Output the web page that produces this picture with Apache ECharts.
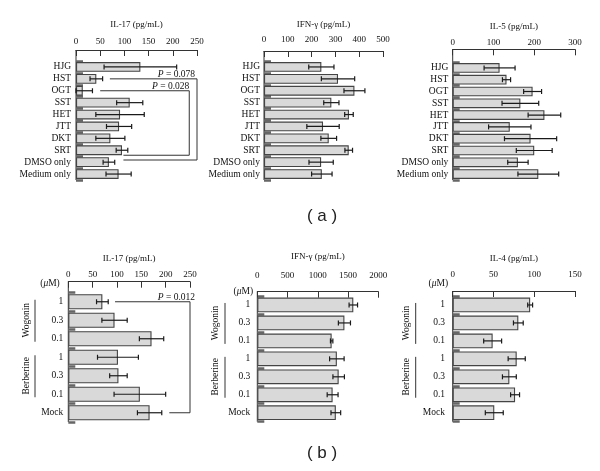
<!DOCTYPE html>
<html><head><meta charset="utf-8">
<script src="https://cdn.jsdelivr.net/npm/echarts@6/dist/echarts.min.js"></script>
<style>html,body{margin:0;padding:0;background:#fff}#c{width:600px;height:471px}</style>
</head><body><div id="c"></div>
<script>
// ---- data ----
const catsA = ['HJG','HST','OGT','SST','HET','JTT','DKT','SRT','DMSO only','Medium only'];
const il17A    = [133, 42, 14, 111, 91, 89, 71, 95, 68, 88];
const il17AErr = [75, 13, 20, 27, 50, 26, 30, 12, 12, 26];
const ifngA    = [241, 311, 380, 283, 357, 248, 272, 356, 240, 243];
const ifngAErr = [53, 70, 44, 32, 18, 68, 33, 16, 51, 43];
const il5A     = [115, 132, 196, 166, 225, 140, 191, 200, 160, 210];
const il5AErr  = [38, 10, 22, 45, 40, 52, 64, 44, 25, 50];

const catsB = ['1','0.3','0.1','1','0.3','0.1','Mock'];
const il17B    = [70, 95, 171, 102, 103, 147, 167];
const il17BErr = [12, 26, 25, 42, 18, 53, 25];
const ifngB    = [1587, 1440, 1229, 1315, 1345, 1245, 1298];
const ifngBErr = [70, 100, 20, 120, 95, 90, 80];
const il4B     = [95, 80.5, 49, 78.5, 69.5, 76.5, 51];
const il4BErr  = [3, 6, 11, 10.5, 8.5, 5.5, 11];

const groupsB = [{name:'Wogonin', from:0, to:2}, {name:'Berberine', from:3, to:5}];
const pValuesA1 = ['0.078', '0.028'];
const pValuesB1 = ['0.012'];

// ---- layout ----
const SERIF = 'Liberation Serif';
const INK = '#111';
const panels = [
 {cats:catsA, vals:il17A, errs:il17AErr, name:'IL-17 (pg/mL)', max:250, step:50, left:76, width:121, top:61, height:119, offset:11, lm:3.8, ng:20.5, cm:5,
  brackets:[{from:1,to:8,start:70,right:250,end:98,shift:-0.18,dx:-2},{from:2,to:8,start:50,right:234,end:98,shift:-0.58,dx:0}], pv:pValuesA1},
 {cats:catsA, vals:ifngA, errs:ifngAErr, name:'IFN-γ (pg/mL)', max:500, step:100, left:264, width:119, top:61, height:119, offset:10, lm:6.5, ng:21.5, cm:4},
 {cats:catsA, vals:il5A, errs:il5AErr, name:'IL-5 (pg/mL)', max:300, step:100, left:452.7, width:122.3, top:62, height:118, offset:12.7, lm:2, ng:18, cm:4.4},
 {cats:catsB, vals:il17B, errs:il17BErr, name:'IL-17 (pg/mL)', max:250, step:50, left:68.3, width:121.7, top:292.5, height:129.5, offset:10.8, lm:3, ng:19, cm:5,
  muX:50, muY:283.3, gTextX:26.7, gLineX:35,
  brackets:[{from:0,to:6,start:96,right:250,end:207.5,shift:0,dx:5}], pv:pValuesB1},
 {cats:catsB, vals:ifngB, errs:ifngBErr, name:'IFN-γ (pg/mL)', max:2000, step:500, left:257.3, width:121, top:296, height:125.7, offset:4.3, lm:12, ng:30.5, cm:7,
  muX:243.3, muY:291.7, gTextX:215, gLineX:225},
 {cats:catsB, vals:il4B, errs:il4BErr, name:'IL-4 (pg/mL)', max:150, step:50, left:452.7, width:122.3, top:296, height:125.7, offset:5, lm:12, ng:28, cm:7.7,
  muX:438.3, muY:283.3, gTextX:406.7, gLineX:415.7}
];

const chart = echarts.init(document.getElementById('c'), null, {renderer:'canvas'});

function errRender(params, api){
  const lo = api.coord([api.value(0), api.value(2)]);
  const hi = api.coord([api.value(1), api.value(2)]);
  const h = 2.5, st = {stroke:'#1a1a1a', lineWidth:1.2};
  return {type:'group', children:[
    {type:'line', shape:{x1:lo[0],y1:lo[1],x2:hi[0],y2:hi[1]}, style:st},
    {type:'line', shape:{x1:lo[0],y1:lo[1]-h,x2:lo[0],y2:lo[1]+h}, style:st},
    {type:'line', shape:{x1:hi[0],y1:hi[1]-h,x2:hi[0],y2:hi[1]+h}, style:st}
  ]};
}
function makeBracketRender(p){
  return function(params, api){
    const b = p.brackets[params.dataIndex];
    const band = api.size([0,1])[1];
    const y0 = api.coord([0, b.from])[1];
    const y1 = api.coord([0, b.to])[1] + b.shift*band;
    const xs = api.coord([b.start, 0])[0];
    const xr = api.coord([b.right, 0])[0];
    const xe = api.coord([b.end, 0])[0];
    return {type:'group', children:[
      {type:'polyline', shape:{points:[[xs,y0],[xr,y0],[xr,y1],[xe,y1]]}, style:{stroke:'#333', fill:null, lineWidth:1}},
      {type:'text', x:xr+b.dx, y:y0+0.5, style:{text:'{i|P} = '+p.pv[params.dataIndex], align:'right', verticalAlign:'bottom',
        fontFamily:SERIF, fontSize:9.5, fill:INK, rich:{i:{fontStyle:'italic', fontFamily:SERIF, fontSize:9.5, fill:INK}}}}
    ]};
  };
}

const grid=[], xAxis=[], yAxis=[], series=[];
panels.forEach((p,k)=>{
  grid.push({left:p.left, top:p.top, width:p.width, height:p.height, containLabel:false});
  xAxis.push({type:'value', gridIndex:k, position:'top', offset:p.offset, min:0, max:p.max, interval:p.step,
    name:p.name, nameLocation:'middle', nameGap:p.ng, nameTextStyle:{fontFamily:SERIF, fontSize:9, color:INK},
    axisLine:{show:true, lineStyle:{color:'#333', width:1}},
    axisTick:{show:true, inside:true, length:6, lineStyle:{color:'#333', width:1}},
    axisLabel:{margin:p.lm, fontFamily:SERIF, fontSize:9, color:INK, showMinLabel:true, showMaxLabel:true, formatter:v=>String(v)},
    splitLine:{show:false}});
  yAxis.push({type:'category', gridIndex:k, data:p.cats, inverse:true,
    axisLine:{show:false},
    axisTick:{show:true, inside:true, length:7, interval:0, lineStyle:{color:'#666', width:2.5}},
    axisLabel:{margin:p.cm, fontFamily:SERIF, fontSize:9.5, color:INK, interval:0}});
  series.push({type:'bar', xAxisIndex:k, yAxisIndex:k, data:p.vals, barCategoryGap:'18%',
    itemStyle:{color:'#d9d9d9', borderColor:'#444', borderWidth:1.1}, silent:true, animation:false});
  series.push({type:'custom', xAxisIndex:k, yAxisIndex:k, renderItem:errRender, encode:{x:[0,1], y:2},
    data:p.vals.map((v,i)=>[Math.max(0, v-p.errs[i]), v+p.errs[i], i]), silent:true, animation:false, z:5});
  if (p.brackets){
    series.push({type:'custom', xAxisIndex:k, yAxisIndex:k, renderItem:makeBracketRender(p), encode:{x:0, y:1},
      data:p.brackets.map(b=>[b.right, b.from]), silent:true, animation:false, z:6});
  }
});

chart.setOption({animation:false, grid, xAxis, yAxis, series});

// decorations computed from the layout
const graphic = [];
panels.forEach((p,k)=>{
  graphic.push({type:'line', shape:{x1:p.left, y1:p.top-p.offset, x2:p.left, y2:p.top+p.height}, style:{stroke:'#333', lineWidth:1}, silent:true});
  if (p.muX !== undefined){
    graphic.push({type:'text', x:p.muX, y:p.muY, style:{text:'({i|μ}M)', align:'center', verticalAlign:'middle',
      fontFamily:SERIF, fontSize:9.5, fill:INK, rich:{i:{fontStyle:'italic', fontFamily:SERIF, fontSize:9.5, fill:INK}}}, silent:true});
    groupsB.forEach(g=>{
      const ya = chart.convertToPixel({yAxisIndex:k}, g.from);
      const yb = chart.convertToPixel({yAxisIndex:k}, g.to);
      graphic.push({type:'line', shape:{x1:p.gLineX, y1:ya-2, x2:p.gLineX, y2:yb+3}, style:{stroke:'#333', lineWidth:1}, silent:true});
      graphic.push({type:'text', x:p.gTextX, y:(ya+yb)/2, rotation:Math.PI/2,
        style:{text:g.name, align:'center', verticalAlign:'middle', fontFamily:SERIF, fontSize:9.5, fill:INK}, silent:true});
    });
  }
});
graphic.push({type:'text', x:322, y:216.7, style:{text:'( a )', align:'center', verticalAlign:'middle', fontFamily:'Liberation Sans', fontSize:17, fill:'#222'}, silent:true});
graphic.push({type:'text', x:322, y:453, style:{text:'( b )', align:'center', verticalAlign:'middle', fontFamily:'Liberation Sans', fontSize:17, fill:'#222'}, silent:true});
chart.setOption({graphic});
</script></body></html>
